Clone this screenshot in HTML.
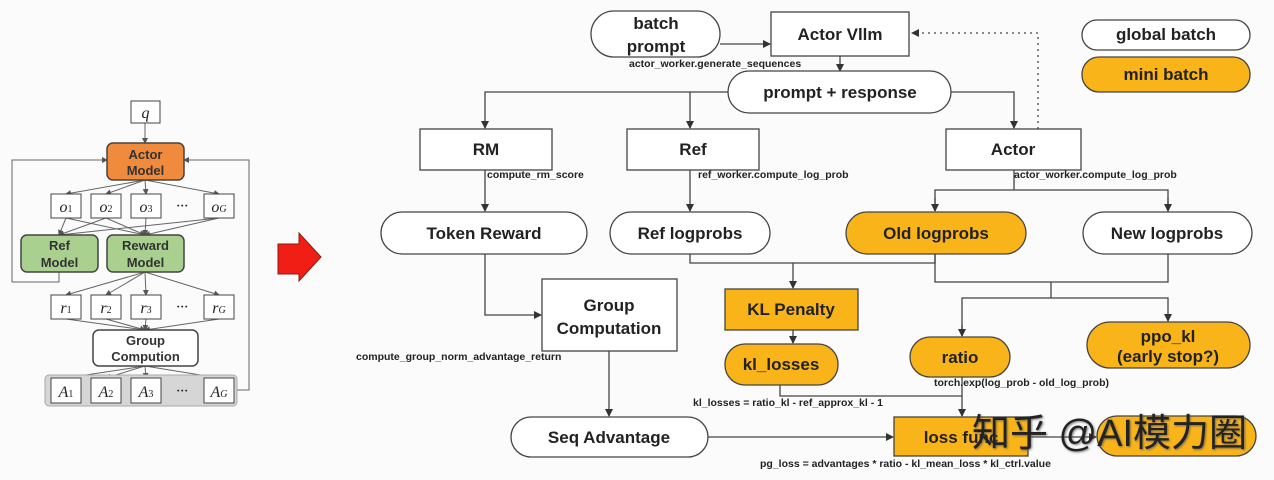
<!DOCTYPE html>
<html><head><meta charset="utf-8"><style>
html,body{margin:0;padding:0;background:#fbfbfb;}
svg{display:block}
text{font-family:"Liberation Sans","DejaVu Sans",sans-serif;font-weight:bold;fill:#222}
.n{font-size:17px;text-anchor:middle}
.s{font-size:10.5px;fill:#222}
.l{font-size:13px;text-anchor:middle;font-weight:bold;fill:#333}
.m{font-family:"Liberation Serif",serif;font-style:italic;font-weight:normal;font-size:16px;text-anchor:middle}
</style></head><body>
<svg width="1274" height="480" viewBox="0 0 1274 480" xmlns="http://www.w3.org/2000/svg">
<defs>
<marker id="a" markerWidth="8" markerHeight="8" refX="7" refY="4" orient="auto" markerUnits="userSpaceOnUse"><path d="M0,0 L8,4 L0,8 z" fill="#333"/></marker>
<marker id="b" markerWidth="6" markerHeight="6" refX="5" refY="3" orient="auto" markerUnits="userSpaceOnUse"><path d="M0,0 L6,3 L0,6 z" fill="#555"/></marker>
<filter id="sh"><feDropShadow dx="1" dy="1" stdDeviation="1" flood-color="#555" flood-opacity="0.8"/></filter>
</defs>
<rect width="1274" height="480" fill="#fbfbfb"/>

<!-- LEFT DIAGRAM -->
<g stroke="#666" stroke-width="1" fill="none">
<line x1="145" y1="123" x2="145" y2="143" marker-end="url(#b)"/>
<path d="M59,272 V282 H12 V160 H107" marker-end="url(#b)"/>
<path d="M237,390 H249 V160 H184" marker-end="url(#b)"/>
<line x1="145" y1="180" x2="66" y2="194" marker-end="url(#b)"/>
<line x1="145" y1="180" x2="106" y2="194" marker-end="url(#b)"/>
<line x1="145" y1="180" x2="146" y2="194" marker-end="url(#b)"/>
<line x1="145" y1="180" x2="219" y2="194" marker-end="url(#b)"/>
<line x1="66" y1="218" x2="59" y2="235" marker-end="url(#b)"/>
<line x1="106" y1="218" x2="59" y2="235" marker-end="url(#b)"/>
<line x1="219" y1="218" x2="59" y2="235" marker-end="url(#b)"/>
<line x1="66" y1="218" x2="145" y2="235" marker-end="url(#b)"/>
<line x1="106" y1="218" x2="145" y2="235" marker-end="url(#b)"/>
<line x1="146" y1="218" x2="145" y2="235" marker-end="url(#b)"/>
<line x1="219" y1="218" x2="145" y2="235" marker-end="url(#b)"/>
<line x1="145" y1="272" x2="66" y2="295" marker-end="url(#b)"/>
<line x1="145" y1="272" x2="106" y2="295" marker-end="url(#b)"/>
<line x1="145" y1="272" x2="146" y2="295" marker-end="url(#b)"/>
<line x1="145" y1="272" x2="219" y2="295" marker-end="url(#b)"/>
<line x1="66" y1="319" x2="145" y2="330" marker-end="url(#b)"/>
<line x1="106" y1="319" x2="145" y2="330" marker-end="url(#b)"/>
<line x1="146" y1="319" x2="145" y2="330" marker-end="url(#b)"/>
<line x1="219" y1="319" x2="145" y2="330" marker-end="url(#b)"/>
<line x1="145" y1="366" x2="66" y2="378" marker-end="url(#b)"/>
<line x1="145" y1="366" x2="106" y2="378" marker-end="url(#b)"/>
<line x1="145" y1="366" x2="146" y2="378" marker-end="url(#b)"/>
<line x1="145" y1="366" x2="219" y2="378" marker-end="url(#b)"/>
</g>
<rect x="131" y="101" width="29" height="22" fill="#fff" stroke="#444"/>
<text class="m" x="145.5" y="118">q</text>
<rect x="107" y="143" width="77" height="37" rx="6" fill="#f08a3c" stroke="#444" stroke-width="1.5"/>
<text class="l" x="145.5" y="159">Actor</text><text class="l" x="145.5" y="175">Model</text>
<g fill="#fff" stroke="#444">
<rect x="51" y="194" width="30" height="24"/><rect x="91" y="194" width="30" height="24"/><rect x="131" y="194" width="30" height="24"/><rect x="204" y="194" width="30" height="24"/>
<rect x="51" y="295" width="30" height="24"/><rect x="91" y="295" width="30" height="24"/><rect x="131" y="295" width="30" height="24"/><rect x="204" y="295" width="30" height="24"/>
</g>
<text class="m" x="66" y="212">o<tspan font-size="10" font-style="normal">1</tspan></text>
<text class="m" x="106" y="212">o<tspan font-size="10" font-style="normal">2</tspan></text>
<text class="m" x="146" y="212">o<tspan font-size="10" font-style="normal">3</tspan></text>
<text class="m" x="182" y="211" font-style="normal">···</text>
<text class="m" x="219" y="212">o<tspan font-size="10">G</tspan></text>
<text class="m" x="66" y="313">r<tspan font-size="10" font-style="normal">1</tspan></text>
<text class="m" x="106" y="313">r<tspan font-size="10" font-style="normal">2</tspan></text>
<text class="m" x="146" y="313">r<tspan font-size="10" font-style="normal">3</tspan></text>
<text class="m" x="182" y="312" font-style="normal">···</text>
<text class="m" x="219" y="313">r<tspan font-size="10">G</tspan></text>
<rect x="21" y="235" width="77" height="37" rx="6" fill="#a9d08e" stroke="#444" stroke-width="1.5"/>
<text class="l" x="59.5" y="250">Ref</text><text class="l" x="59.5" y="267">Model</text>
<rect x="107" y="235" width="77" height="37" rx="6" fill="#a9d08e" stroke="#444" stroke-width="1.5"/>
<text class="l" x="145.5" y="250">Reward</text><text class="l" x="145.5" y="267">Model</text>
<rect x="93" y="330" width="105" height="36" rx="6" fill="#fff" stroke="#444" stroke-width="1.5"/>
<text class="l" x="145.5" y="345">Group</text><text class="l" x="145.5" y="361">Compution</text>
<rect x="45" y="375" width="192" height="31" rx="4" fill="#d6d6d6" stroke="#aaa"/>
<g fill="#fff" stroke="#444">
<rect x="51" y="378" width="30" height="25"/><rect x="91" y="378" width="30" height="25"/><rect x="131" y="378" width="30" height="25"/><rect x="204" y="378" width="30" height="25"/>
</g>
<text class="m" x="66" y="397">A<tspan font-size="10" font-style="normal">1</tspan></text>
<text class="m" x="106" y="397">A<tspan font-size="10" font-style="normal">2</tspan></text>
<text class="m" x="146" y="397">A<tspan font-size="10" font-style="normal">3</tspan></text>
<text class="m" x="182" y="396" font-style="normal">···</text>
<text class="m" x="219" y="397">A<tspan font-size="10">G</tspan></text>

<!-- red arrow -->
<path d="M278,244 H299 V233 L321,257 L299,281 V274 H278 z" fill="#f01e14" stroke="#8a1a10"/>

<!-- RIGHT DIAGRAM connectors -->
<g stroke="#444" stroke-width="1.3" fill="none">
<line x1="720" y1="44" x2="770" y2="44" marker-end="url(#a)"/>
<path d="M1038,129 V33 H912" stroke-dasharray="2,4" marker-end="url(#a)"/>
<line x1="840" y1="56" x2="840" y2="71" marker-end="url(#a)"/>
<path d="M728,92 H485 V128" marker-end="url(#a)"/>
<line x1="690" y1="92" x2="690" y2="128" marker-end="url(#a)"/>
<path d="M951,92 H1014 V128" marker-end="url(#a)"/>
<line x1="485" y1="170" x2="485" y2="211" marker-end="url(#a)"/>
<line x1="690" y1="170" x2="690" y2="211" marker-end="url(#a)"/>
<path d="M1014,170 V190"/>
<path d="M935,211 V190 H1168 V211"/>
<line x1="935" y1="198" x2="935" y2="211" marker-end="url(#a)"/>
<line x1="1168" y1="198" x2="1168" y2="211" marker-end="url(#a)"/>
<path d="M485,254 V315 H541" marker-end="url(#a)"/>
<path d="M690,254 V263 H935 V254"/>
<line x1="793" y1="263" x2="793" y2="288" marker-end="url(#a)"/>
<path d="M935,254 V282 H1168 V254"/>
<path d="M1051,282 V298"/>
<path d="M962,336 V298 H1168 V321" marker-end="url(#a)"/>
<line x1="962" y1="325" x2="962" y2="336" marker-end="url(#a)"/>
<line x1="793" y1="330" x2="793" y2="343" marker-end="url(#a)"/>
<path d="M780,385 V396 H962"/>
<line x1="962" y1="377" x2="962" y2="416" marker-end="url(#a)"/>
<line x1="609" y1="351" x2="609" y2="416" marker-end="url(#a)"/>
<line x1="708" y1="437" x2="893" y2="437" marker-end="url(#a)"/>
<line x1="1028" y1="437" x2="1096" y2="437" marker-end="url(#a)"/>
</g>

<!-- nodes -->
<g stroke="#444" stroke-width="1.3">
<rect x="591" y="11" width="129" height="46" rx="23" fill="#fff"/>
<rect x="771" y="12" width="138" height="44" fill="#fff"/>
<rect x="728" y="71" width="223" height="42" rx="21" fill="#fff"/>
<rect x="420" y="129" width="132" height="41" fill="#fff"/>
<rect x="627" y="129" width="132" height="41" fill="#fff"/>
<rect x="946" y="129" width="135" height="41" fill="#fff"/>
<rect x="381" y="212" width="206" height="42" rx="21" fill="#fff"/>
<rect x="610" y="212" width="160" height="42" rx="21" fill="#fff"/>
<rect x="846" y="212" width="180" height="42" rx="21" fill="#f9b419"/>
<rect x="1083" y="212" width="169" height="42" rx="21" fill="#fff"/>
<rect x="542" y="279" width="135" height="72" fill="#fff"/>
<rect x="725" y="289" width="133" height="41" fill="#f9b419"/>
<rect x="725" y="344" width="113" height="41" rx="20" fill="#f9b419"/>
<rect x="910" y="337" width="100" height="40" rx="20" fill="#f9b419"/>
<rect x="1087" y="322" width="163" height="46" rx="23" fill="#f9b419"/>
<rect x="511" y="417" width="197" height="40" rx="20" fill="#fff"/>
<rect x="894" y="417" width="134" height="39" fill="#f9b419"/>
<rect x="1097" y="416" width="159" height="40" rx="20" fill="#f9b419"/>
<rect x="1082" y="20" width="168" height="30" rx="15" fill="#fff"/>
<rect x="1082" y="57" width="168" height="35" rx="17" fill="#f9b419"/>
</g>

<text class="n" x="656" y="29">batch</text><text class="n" x="656" y="52">prompt</text>
<text class="n" x="840" y="40">Actor Vllm</text>
<text class="n" x="840" y="98">prompt + response</text>
<text class="n" x="486" y="155">RM</text>
<text class="n" x="693" y="155">Ref</text>
<text class="n" x="1013" y="155">Actor</text>
<text class="n" x="484" y="239">Token Reward</text>
<text class="n" x="690" y="239">Ref logprobs</text>
<text class="n" x="936" y="239">Old logprobs</text>
<text class="n" x="1167" y="239">New logprobs</text>
<text class="n" x="609" y="311">Group</text><text class="n" x="609" y="334">Computation</text>
<text class="n" x="791" y="315">KL Penalty</text>
<text class="n" x="781" y="370">kl_losses</text>
<text class="n" x="960" y="363">ratio</text>
<text class="n" x="1168" y="342">ppo_kl</text><text class="n" x="1168" y="362">(early stop?)</text>
<text class="n" x="609" y="443">Seq Advantage</text>
<text class="n" x="961" y="443">loss func</text>
<text class="n" x="1166" y="40">global batch</text>
<text class="n" x="1166" y="80">mini batch</text>

<text class="s" x="629" y="67">actor_worker.generate_sequences</text>
<text class="s" x="487" y="178">compute_rm_score</text>
<text class="s" x="698" y="178">ref_worker.compute_log_prob</text>
<text class="s" x="1014" y="178">actor_worker.compute_log_prob</text>
<text class="s" x="356" y="360">compute_group_norm_advantage_return</text>
<text class="s" x="934" y="386">torch.exp(log_prob - old_log_prob)</text>
<text class="s" x="693" y="406">kl_losses = ratio_kl - ref_approx_kl - 1</text>
<text class="s" x="760" y="467">pg_loss = advantages * ratio - kl_mean_loss * kl_ctrl.value</text>

<text x="972" y="446" font-size="38" fill="#fff" filter="url(#sh)" style="font-family:'Liberation Sans','Noto Sans CJK SC',sans-serif;font-weight:normal">知乎 @AI模力圈</text>
</svg>
</body></html>
